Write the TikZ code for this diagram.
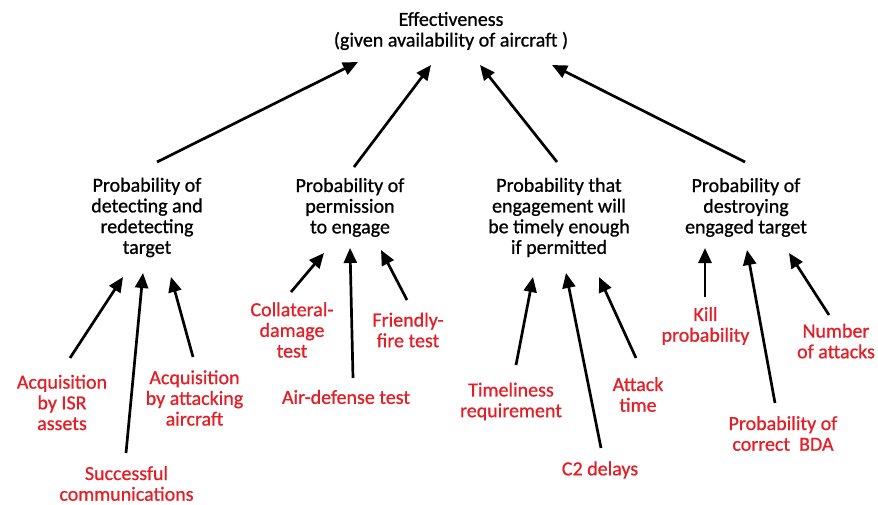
\documentclass[tikz,border=0pt]{standalone}
\usepackage{fontspec}
\setmainfont{Carlito}
\newfontfamily\labelfont{Carlito}[FakeBold=0.8,BoldFont={*},BoldFeatures={FakeBold=0.8}]
\usetikzlibrary{arrows.meta,calc}
\definecolor{factred}{RGB}{228,30,38}
\tikzset{
  lbl/.style={align=center,inner sep=0pt,font=\labelfont\bfseries\fontsize{20}{20.7}\selectfont},
  goal/.style={lbl,text=black},
  factor/.style={lbl,text=factred},
  arr/.style={line width=2.7pt,-{Triangle[length=15pt,width=13pt]}}
}
\begin{document}
\begin{tikzpicture}[x=1pt,y=-1pt]
\useasboundingbox (0,0) rectangle (878,505);

% top-level measure
\node[goal] (eff) at (451,31) {Effectiveness\\(given availability of aircraft )};

% contributing probabilities
\node[goal] (det) at (147,217.5) {Probability of\\detecting and\\redetecting\\target};
\node[goal] (per) at (350,207.5) {Probability of\\permission\\to engage};
\node[goal] (tim) at (559,217.5) {Probability that\\engagement will\\be timely enough\\if permitted};
\node[goal] (des) at (746,207.5) {Probability of\\destroying\\engaged target};

% factors
\node[factor] (isr) at (62,402.5) {Acquisition\\by ISR\\assets};
\node[factor] (com) at (126.5,483.5) {Successful\\communications};
\node[factor] (att) at (194.5,398) {Acquisition\\by attacking\\aircraft};
\node[factor] (col) at (292,330) {Collateral-\\damage\\test};
\node[factor] (air) at (346,397) {Air-defense test};
\node[factor] (fri) at (408,330) {Friendly-\\fire test};
\node[factor] (tml) at (511,401.5) {Timeliness\\requirement};
\node[factor] (c2)  at (600,470) {C2 delays};
\node[factor] (atk) at (638,394.5) {Attack\\time};
\node[factor] (kil) at (705.5,326) {Kill\\probability};
\node[factor] (bda) at (783,433.5) {Probability of\\correct\ \ BDA};
\node[factor] (num) at (836,341) {Number\\of attacks};

% probabilities feeding effectiveness
\draw[arr] ($(det)+(10,-55.5)$) -- ($(eff)+(-93,31)$);
\draw[arr] ($(per)+(4,-40.5)$)  -- ($(eff)+(-20,34)$);
\draw[arr] ($(tim)+(-2,-55.5)$) -- ($(eff)+(29,34)$);
\draw[arr] ($(des)+(-1,-45.5)$) -- ($(eff)+(101,34)$);

% factors feeding each probability
\draw[arr] ($(isr)+(8,-44.5)$)   -- ($(det)+(-24,59.5)$);
\draw[arr] ($(com)+(-0.5,-30.5)$) -- ($(det)+(-4,55.5)$);
\draw[arr] ($(att)+(-1.5,-41)$)  -- ($(det)+(24,59.5)$);

\draw[arr] ($(col)+(-1,-38)$)    -- ($(per)+(-26,45.5)$);
\draw[arr] ($(air)+(7,-19)$)     -- ($(per)+(0,40.5)$);
\draw[arr] ($(fri)+(-1,-30)$)    -- ($(per)+(31,42.5)$);

\draw[arr] ($(tml)+(5,-36.5)$)   -- ($(tim)+(-26,59.5)$);
\draw[arr] ($(c2)+(1,-22)$)      -- ($(tim)+(7,55.5)$);
\draw[arr] ($(atk)+(-2,-36.5)$)  -- ($(tim)+(40,59.5)$);

\draw[arr] ($(kil)+(-0.5,-29)$)  -- ($(des)+(-41,40.5)$);
\draw[arr] ($(bda)+(-8,-30.5)$)  -- ($(des)+(1,42.5)$);
\draw[arr] ($(num)+(-7,-26)$)    -- ($(des)+(43,45.5)$);
\end{tikzpicture}
\end{document}
